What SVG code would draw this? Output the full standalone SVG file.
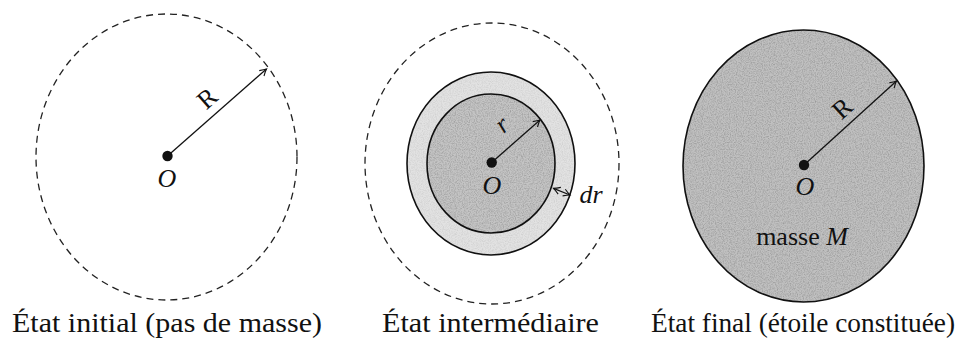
<svg xmlns="http://www.w3.org/2000/svg" width="960" height="343" viewBox="0 0 960 343">
<style>
.dash{fill:none;stroke:#222;stroke-width:1.3;stroke-dasharray:7 5}
.solid{stroke:#111;stroke-width:1.6}
.arrow{fill:none;stroke:#111;stroke-width:1.3}
.dot{fill:#111}
.cap{font-size:28px;fill:#111}
.lbl{font-size:26px;fill:#111}
.it{font-style:italic}
.grain{opacity:0.35}
</style>
<defs>
<marker id="ah" viewBox="-8 -5 10 10" refX="0" refY="0" markerWidth="10" markerHeight="10" orient="auto-start-reverse" markerUnits="userSpaceOnUse">
<path d="M-6.5,-3.6 Q-2.5,-1 0,0 Q-2.5,1 -6.5,3.6" fill="none" stroke="#111" stroke-width="1.1"/>
</marker>
<filter id="grain" x="0" y="0" width="1" height="1">
<feTurbulence type="fractalNoise" baseFrequency="0.85" numOctaves="2" seed="4" result="n"/>
<feColorMatrix in="n" type="matrix" values="0 0 0 0 0  0 0 0 0 0  0 0 0 0 0  1.1 0 0 0 -0.42" result="a"/>
<feComposite in="a" in2="SourceGraphic" operator="in"/>
</filter>
</defs>
<rect width="960" height="343" fill="#ffffff"/>

<g font-family="Liberation Serif, Times New Roman, serif">
<g id="etat-initial">
<ellipse class="dash" cx="166.5" cy="157" rx="130.5" ry="143"/>
<circle class="dot" cx="167.5" cy="156" r="5.2"/>
<text class="lbl it" x="167" y="187" text-anchor="middle">O</text>
<text class="lbl" transform="translate(207,98) rotate(-41)" x="0" y="9" text-anchor="middle">R</text>
<text class="cap" x="12" y="332" textLength="310" lengthAdjust="spacingAndGlyphs">État initial (pas de masse)</text>
</g>

<g id="etat-intermediaire">
<ellipse class="dash" cx="492" cy="163.5" rx="127" ry="140.5"/>
<ellipse class="solid" cx="491" cy="163.5" rx="84" ry="91.5" fill="#e2e2e2"/>
<ellipse cx="491" cy="163.5" rx="84" ry="91.5" fill="#000" filter="url(#grain)" opacity="0.15"/>
<ellipse class="solid" cx="491" cy="163.5" rx="64" ry="69.5" fill="#c4c4c4"/>
<ellipse class="grain" cx="491" cy="163.5" rx="64" ry="69.5" fill="#000" filter="url(#grain)"/>
<circle class="dot" cx="491.7" cy="162.5" r="5.2"/>
<text class="lbl it" x="492" y="194" text-anchor="middle">O</text>
<text class="lbl it" transform="translate(504,127) rotate(-41)" x="0" y="5" text-anchor="middle">r</text>
<text class="lbl it" x="591" y="203" text-anchor="middle">dr</text>
<text class="cap" x="382" y="332" textLength="217" lengthAdjust="spacingAndGlyphs">État intermédiaire</text>
</g>

<g id="etat-final">
<ellipse class="solid" cx="803.5" cy="166" rx="120.5" ry="136" fill="#c0c0c0"/>
<ellipse class="grain" cx="803.5" cy="166" rx="120.5" ry="136" fill="#000" filter="url(#grain)"/>
<circle class="dot" cx="804" cy="165" r="5.2"/>
<text class="lbl it" x="805" y="195" text-anchor="middle">O</text>
<text class="lbl" transform="translate(842,108) rotate(-42)" x="0" y="9" text-anchor="middle">R</text>
<text class="lbl" x="802" y="245" text-anchor="middle" font-size="27">masse <tspan class="it">M</tspan></text>
<text class="cap" x="651" y="332" font-size="26" textLength="304" lengthAdjust="spacingAndGlyphs">État final (étoile constituée)</text>
</g>
</g>

<g id="connecteurs">
<line class="arrow" x1="167.5" y1="156" x2="266.5" y2="69" marker-end="url(#ah)"/>
<line class="arrow" x1="491.7" y1="162.5" x2="540" y2="120" marker-end="url(#ah)"/>
<line class="arrow" x1="553.5" y1="188.3" x2="570" y2="195" marker-start="url(#ah)" marker-end="url(#ah)"/>
<line class="arrow" x1="804" y1="165" x2="896.5" y2="81" marker-end="url(#ah)"/>
</g>
</svg>
